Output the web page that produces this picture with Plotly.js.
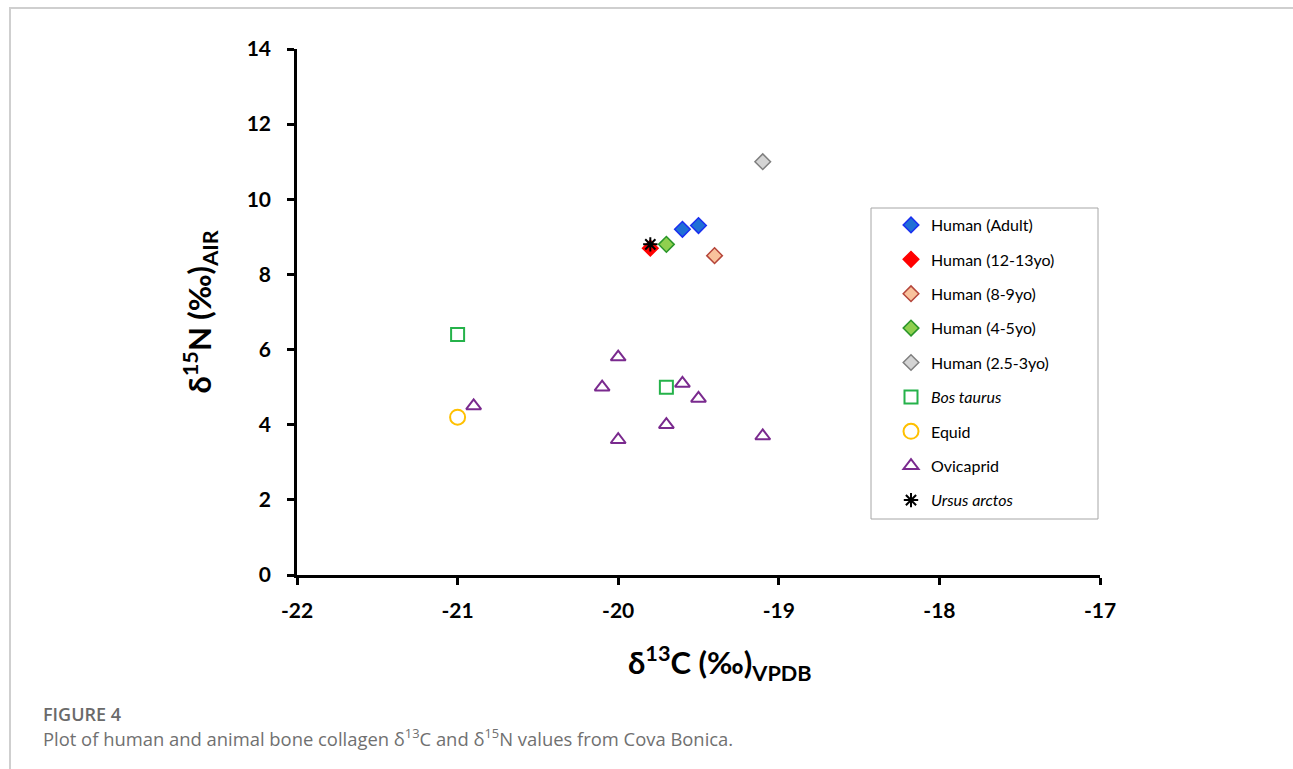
<!DOCTYPE html>
<html>
<head>
<meta charset="utf-8">
<script src="https://cdn.plot.ly/plotly-3.0.1.min.js"></script>
<style>
  html, body { margin: 0; padding: 0; background: #fff; }
  #frame { position: absolute; left: 9px; top: 7px; width: 1284px; height: 762px;
           border-top: 2px solid #cfcfcf; border-left: 2px solid #cfcfcf; box-sizing: border-box; }
  #chart { position: absolute; left: 0; top: 0; width: 1293px; height: 769px; }
</style>
</head>
<body>
<div id="frame"></div>
<div id="chart"></div>
<script>
// ---- data (δ13C, δ15N) ----
const adultX = [-19.6, -19.5];
const adultY = [9.2, 9.3];
const teenX = [-19.8];
const teenY = [8.7];
const child89X = [-19.4];
const child89Y = [8.5];
const child45X = [-19.7];
const child45Y = [8.8];
const child253X = [-19.1];
const child253Y = [11.0];
const bosX = [-21.0, -19.7];
const bosY = [6.4, 5.0];
const equidX = [-21.0];
const equidY = [4.2];
const ovicapridX = [-20.9, -20.0, -20.1, -19.6, -19.5, -19.7, -20.0, -19.1];
const ovicapridY = [4.5, 5.8, 5.0, 5.1, 4.7, 4.0, 3.6, 3.7];
const ursusX = [-19.8];
const ursusY = [8.8];

const xTicks = [-22, -21, -20, -19, -18, -17];
const yTicks = [0, 2, 4, 6, 8, 10, 12, 14];

const names = ['Human (Adult)', 'Human (12-13yo)', 'Human (8-9yo)', 'Human (4-5yo)',
               'Human (2.5-3yo)', '<i>Bos taurus</i>', 'Equid', 'Ovicaprid', '<i>Ursus arctos</i>'];

function tr(i, x, y, marker) {
  return { type: 'scatter', mode: 'markers', x: x, y: y, name: names[i],
           legendgroup: 'g' + i, marker: marker, hoverinfo: 'x+y' };
}

const data = [
  tr(0, adultX, adultY, { symbol: 'diamond', size: 12, color: '#1f6fd6', line: { color: '#1a2ff0', width: 1.5 } }),
  tr(1, teenX, teenY, { symbol: 'diamond', size: 12, color: '#ff0000', line: { color: '#ff0000', width: 1.5 } }),
  tr(2, child89X, child89Y, { symbol: 'diamond', size: 12, color: '#f9c29c', line: { color: '#b5453a', width: 1.5 } }),
  tr(3, child45X, child45Y, { symbol: 'diamond', size: 12, color: '#8fcf4f', line: { color: '#2a962a', width: 1.5 } }),
  tr(4, child253X, child253Y, { symbol: 'diamond', size: 12, color: '#d4d4d4', line: { color: '#7f7f7f', width: 1.5 } }),
  tr(5, bosX, bosY, { symbol: 'square-open', size: 13, color: '#25b24a', line: { color: '#25b24a', width: 2 } }),
  tr(6, equidX, equidY, { symbol: 'circle-open', size: 15, color: '#ffc000', line: { color: '#ffc000', width: 2 } }),
  tr(7, ovicapridX, ovicapridY, { symbol: 'triangle-up-open', size: 13, color: '#7a2a8e', line: { color: '#7a2a8e', width: 2 } }),
  tr(8, ursusX, ursusY, { symbol: 'asterisk-open', size: 12, color: '#000000', line: { color: '#000000', width: 2 } })
];

// plot area in pixels: x 297..1100, y 49..575
const L = 297, R = 1100, T = 49, B = 575;
const px = v => (v - L) / (R - L);
const py = v => (B - v) / (B - T);

const layout = {
  width: 1293, height: 769,
  margin: { l: L, r: 1293 - R, t: T, b: 769 - B },
  paper_bgcolor: 'rgba(0,0,0,0)', plot_bgcolor: 'rgba(0,0,0,0)',
  showlegend: true,
  font: { family: 'Lato, "Open Sans", sans-serif', color: '#000' },
  xaxis: {
    range: [-22, -17], tickvals: xTicks, ticktext: xTicks.map(String),
    showgrid: false, zeroline: false, showline: true, linecolor: '#000', linewidth: 2.5,
    ticks: 'outside', ticklen: 7, tickwidth: 2.5, tickcolor: '#000',
    ticklabelstandoff: 8,
    tickfont: { family: 'Lato', size: 21, color: '#000', weight: 'bold' },
    automargin: false, fixedrange: true
  },
  yaxis: {
    range: [0, 14], tickvals: yTicks, ticktext: yTicks.map(String),
    showgrid: false, zeroline: false, showline: true, linecolor: '#000', linewidth: 2.5,
    ticks: 'outside', ticklen: 7, tickwidth: 2.5, tickcolor: '#000',
    ticklabelstandoff: 12,
    tickfont: { family: 'Lato', size: 21, color: '#000', weight: 'bold' },
    title: { text: 'δ<sup>15</sup>N (‰)<sub>AIR</sub>', standoff: 26,
             font: { family: 'Lato', size: 31, color: '#000', weight: 'bold' } },
    automargin: false, fixedrange: true
  },
  legend: {
    x: px(891), y: py(208), xanchor: 'left', yanchor: 'top',
    bgcolor: 'rgba(0,0,0,0)', borderwidth: 0,
    font: { family: 'Lato', size: 16, color: '#000' },
    tracegroupgap: 10.6, itemclick: false, itemdoubleclick: false
  },
  shapes: [
    { type: 'rect', xref: 'paper', yref: 'paper', x0: px(871), x1: px(1098), y0: py(519), y1: py(208),
      line: { color: '#a6a6a6', width: 1 }, fillcolor: 'rgba(0,0,0,0)' }
  ],
  annotations: [
    { xref: 'paper', yref: 'paper', x: px(720), y: py(663), xanchor: 'center', yanchor: 'middle',
      text: 'δ<sup>13</sup>C (‰)<sub>VPDB</sub>', showarrow: false,
      font: { family: 'Lato', size: 31, color: '#000', weight: 'bold' } },
    { xref: 'paper', yref: 'paper', x: px(41), y: py(714), xanchor: 'left', yanchor: 'middle',
      text: 'FIGURE 4', showarrow: false,
      font: { family: '"Open Sans", sans-serif', size: 18, color: '#6a6a6a', weight: 600 } },
    { xref: 'paper', yref: 'paper', x: px(41), y: py(737), xanchor: 'left', yanchor: 'middle',
      text: 'Plot of human and animal bone collagen δ<sup>13</sup>C and δ<sup>15</sup>N values from Cova Bonica.',
      showarrow: false,
      font: { family: '"Open Sans", sans-serif', size: 18.4, color: '#707070' } }
  ]
};

Plotly.newPlot('chart', data, layout, { displayModeBar: false });
</script>
</body>
</html>
